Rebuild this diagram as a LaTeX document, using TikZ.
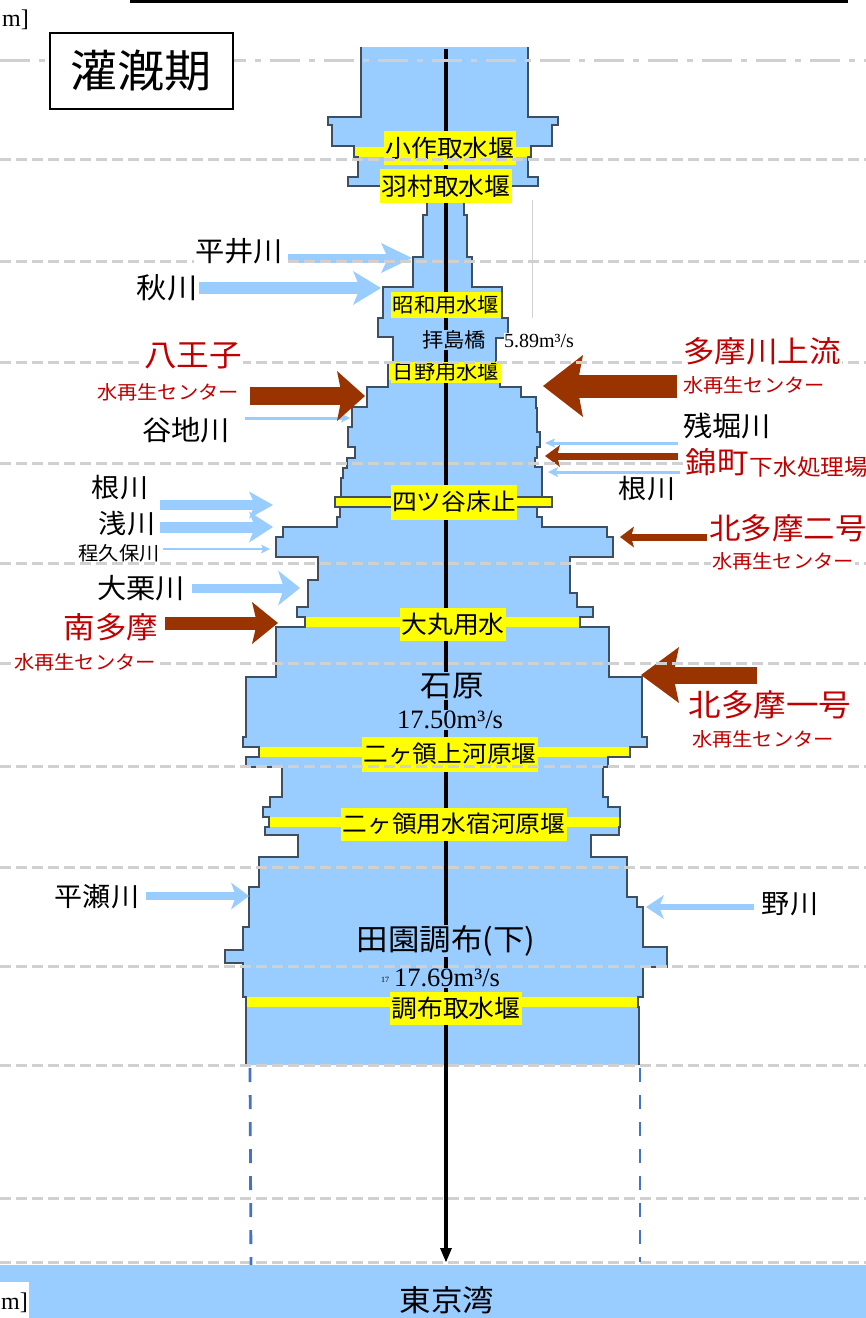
\documentclass[tikz,border=0pt]{standalone}
\usepackage{fontspec}
\setmainfont{Liberation Serif}
\newfontfamily\jp[FakeStretch=1.06]{Noto Sans CJK JP}
\usetikzlibrary{arrows.meta}
\definecolor{river}{HTML}{99CCFF}
\definecolor{edgec}{HTML}{3F4F60}
\definecolor{sewage}{HTML}{993300}
\definecolor{redtxt}{HTML}{C00000}
\definecolor{gridc}{HTML}{D0D0D0}
\definecolor{bluedash}{HTML}{4472C4}
\definecolor{ylw}{HTML}{FFFF00}
\newcommand\fsz[1]{\fontsize{#1}{#1}\selectfont}
\begin{document}
\begin{tikzpicture}[x=1pt,y=-1pt,
  jf/.style={font=\jp\fsz{#1}},
  rf/.style={font=\rmfamily\fsz{#1}},
  ylab/.style={fill=ylw, inner xsep=1.5pt, inner ysep=0pt, minimum height=#1},
  blab/.style={fill=river, inner sep=1pt},
  wlab/.style={fill=white, inner sep=1pt},
  redt/.style={text=redtxt},
  barrow/.style n args={4}{draw=river, line width=#1, -{Stealth[length=#2, width=#3, inset=#4, line width=0pt]}},
  brarrow/.style n args={4}{draw=sewage, line width=#1, -{Stealth[length=#2, width=#3, inset=#4, line width=0pt]}},
  gridline/.style={draw=gridc, line width=3pt, dash pattern=on 11pt off 5pt},
  ybar/.style={fill=ylw}
]
\useasboundingbox (0,0) rectangle (866,1318);
\fill[white] (0,0) rectangle (866,1318);
% top rule
\draw[line width=2.5pt] (130,1.3) -- (848,1.3);
% Tokyo bay
\fill[river] (0,1265) rectangle (866,1318);

% river body
\fill[river] (361,47) -- (361,117) -- (328,117) -- (328,125) -- (332,125) -- (332,146) -- (354,146) -- (354,157) -- (358,157) -- (358,177) -- (348,177) -- (348,186) -- (427,186) -- (427,215) -- (423,215) -- (423,257) -- (413,257) -- (413,287) -- (383,287) -- (383,318) -- (378,318) -- (378,337) -- (393,337) -- (393,362) -- (388,362) -- (388,387) -- (367,387) -- (367,407) -- (352,407) -- (352,427) -- (348,427) -- (348,447) -- (355,447) -- (355,458) -- (347,458) -- (347,468) -- (343,468) -- (343,478) -- (341,478) -- (341,497) -- (335,497) -- (335,507) -- (340,507) -- (340,517) -- (337,517) -- (337,527) -- (283,527) -- (283,537) -- (276,537) -- (276,557) -- (318,557) -- (318,580) -- (308,580) -- (308,607) -- (297,607) -- (297,617) -- (305,617) -- (305,627) -- (276,627) -- (276,677) -- (246,677) -- (246,737) -- (243,737) -- (243,747) -- (259,747) -- (259,757) -- (246,757) -- (246,767) -- (282,767) -- (282,797) -- (270,797) -- (270,807) -- (263,807) -- (263,817) -- (269,817) -- (269,827) -- (265,827) -- (265,835) -- (298,835) -- (298,857) -- (259,857) -- (259,887) -- (249,887) -- (249,927) -- (243,927) -- (243,950) -- (225,950) -- (225,963) -- (243,963) -- (243,997) -- (246,997) -- (246,1065)
 -- (639,1065) -- (639,1007) -- (638,1007) -- (638,997) -- (643,997) -- (643,967) -- (667,967) -- (667,947) -- (643,947) -- (643,907) -- (637,907) -- (637,897) -- (627,897) -- (627,857) -- (591,857) -- (591,835) -- (619,835) -- (619,827) -- (620,827) -- (620,807) -- (608,807) -- (608,797) -- (603,797) -- (603,767) -- (608,767) -- (608,757) -- (630,757) -- (630,747) -- (647,747) -- (647,737) -- (642,737) -- (642,677) -- (609,677) -- (609,627) -- (580,627) -- (580,617) -- (593,617) -- (593,607) -- (577,607) -- (577,593) -- (570,593) -- (570,557) -- (613,557) -- (613,537) -- (607,537) -- (607,527) -- (542,527) -- (542,517) -- (537,517) -- (537,507) -- (552,507) -- (552,497) -- (542,497) -- (542,467) -- (535,467) -- (535,458) -- (537,458) -- (537,447) -- (540,447) -- (540,432) -- (537,432) -- (537,408) -- (536,408) -- (536,397) -- (521,397) -- (521,387) -- (500,387) -- (500,362) -- (496,362) -- (496,338) -- (508,338) -- (508,318) -- (502,318) -- (502,287) -- (472,287) -- (472,257) -- (467,257) -- (467,215) -- (464,215) -- (464,186) -- (538,186) -- (538,177) -- (528,177) -- (528,157) -- (531,157) -- (531,146) -- (552,146) -- (552,125) -- (558,125) -- (558,117) -- (528,117) -- (528,47) -- cycle;

% weir bars
\fill[ybar] (354,147) rectangle (531,157);
\fill[ybar] (388,364) rectangle (500,380);
\filldraw[ybar, draw=edgec, line width=1.2pt] (335,497) rectangle (552,507);
\fill[ybar] (305,617) rectangle (580,627);
\fill[ybar] (259,747) rectangle (630,757);
\fill[ybar] (269,817) rectangle (620,827);
\fill[ybar] (246,997) rectangle (638,1007);

% outline
\draw[edgec, line width=1.4pt] (361,47) -- (361,117) -- (328,117) -- (328,125) -- (332,125) -- (332,146) -- (354,146) -- (354,157) -- (358,157) -- (358,177) -- (348,177) -- (348,186) -- (427,186) -- (427,215) -- (423,215) -- (423,257) -- (413,257) -- (413,287) -- (383,287) -- (383,318) -- (378,318) -- (378,337) -- (393,337) -- (393,362) -- (388,362) -- (388,387) -- (367,387) -- (367,407) -- (352,407) -- (352,427) -- (348,427) -- (348,447) -- (355,447) -- (355,458) -- (347,458) -- (347,468) -- (343,468) -- (343,478) -- (341,478) -- (341,497) -- (335,497) -- (335,507) -- (340,507) -- (340,517) -- (337,517) -- (337,527) -- (283,527) -- (283,537) -- (276,537) -- (276,557) -- (318,557) -- (318,580) -- (308,580) -- (308,607) -- (297,607) -- (297,617) -- (305,617) -- (305,627) -- (276,627) -- (276,677) -- (246,677) -- (246,737) -- (243,737) -- (243,747) -- (259,747) -- (259,757) -- (246,757) -- (246,767) -- (282,767) -- (282,797) -- (270,797) -- (270,807) -- (263,807) -- (263,817) -- (269,817) -- (269,827) -- (265,827) -- (265,835) -- (298,835) -- (298,857) -- (259,857) -- (259,887) -- (249,887) -- (249,927) -- (243,927) -- (243,950) -- (225,950) -- (225,963) -- (243,963) -- (243,997) -- (246,997) -- (246,1065);
\draw[edgec, line width=1.4pt] (639,1065) -- (639,1007) -- (638,1007) -- (638,997) -- (643,997) -- (643,967) -- (667,967) -- (667,947) -- (643,947) -- (643,907) -- (637,907) -- (637,897) -- (627,897) -- (627,857) -- (591,857) -- (591,835) -- (619,835) -- (619,827) -- (620,827) -- (620,807) -- (608,807) -- (608,797) -- (603,797) -- (603,767) -- (608,767) -- (608,757) -- (630,757) -- (630,747) -- (647,747) -- (647,737) -- (642,737) -- (642,677) -- (609,677) -- (609,627) -- (580,627) -- (580,617) -- (593,617) -- (593,607) -- (577,607) -- (577,593) -- (570,593) -- (570,557) -- (613,557) -- (613,537) -- (607,537) -- (607,527) -- (542,527) -- (542,517) -- (537,517) -- (537,507) -- (552,507) -- (552,497) -- (542,497) -- (542,467) -- (535,467) -- (535,458) -- (537,458) -- (537,447) -- (540,447) -- (540,432) -- (537,432) -- (537,408) -- (536,408) -- (536,397) -- (521,397) -- (521,387) -- (500,387) -- (500,362) -- (496,362) -- (496,338) -- (508,338) -- (508,318) -- (502,318) -- (502,287) -- (472,287) -- (472,257) -- (467,257) -- (467,215) -- (464,215) -- (464,186) -- (538,186) -- (538,177) -- (528,177) -- (528,157) -- (531,157) -- (531,146) -- (552,146) -- (552,125) -- (558,125) -- (558,117) -- (528,117) -- (528,47);

% faint guide
\draw[black!18, line width=0.8pt] (532,200) -- (532,318);

% centre flow line
\coordinate (src) at (446,49);
\coordinate (mouth) at (446,1262);
\draw[line width=3.2pt, -{Triangle[length=14pt, width=12pt, line width=0pt]}] (src) -- (mouth);

% yellow weir labels
\node[ylab=34pt, jf=24.4] (kosaku) at (450,148) {小作取水堰};
\node[ylab=34pt, jf=24.4] (hamura) at (446,186) {羽村取水堰};
\node[ylab=26pt, jf=20.1] (showa) at (446,305) {昭和用水堰};
\node[ylab=21pt, jf=20.1] (hino) at (446,372) {日野用水堰};
\node[ylab=35pt, jf=23.3] (yotsuya) at (454,502) {四ツ谷床止};
\node[ylab=33pt, jf=24.4] (daimaru) at (453,624) {大丸用水};
\node[ylab=35pt, jf=23.3] (kamigawara) at (450,754) {二ヶ領上河原堰};
\node[ylab=33pt, jf=23.3] (shukugawara) at (454,824) {二ヶ領用水宿河原堰};
\node[ylab=33pt, jf=24.4] (chofu) at (456,1008) {調布取水堰};

% station labels on the river
\node[blab, jf=20.1] (haijima) at (454,340) {拝島橋};
\node[wlab, rf=20, inner xsep=0.5pt] (q1) at (539,341) {5.89m³/s};
\node[blab, jf=29.7] (ishihara) at (452,686) {石原};
\node[blab, rf=26.5] (q2) at (450,720) {17.50m³/s};
\node[blab, jf=29.7] (denen) at (446,941) {田園調布(下)};

% tributary arrow ends
\coordinate (hiraiS) at (288,258);  \coordinate (hiraiT) at (412,258);
\coordinate (akiS) at (199,288);    \coordinate (akiT) at (381,288);
\coordinate (yachiS) at (245,418);  \coordinate (yachiT) at (350,418);
\coordinate (neLS) at (160,505);    \coordinate (neLT) at (273,505);
\coordinate (asaS) at (160,527);    \coordinate (asaT) at (273,527);
\coordinate (hodoS) at (163,549);   \coordinate (hodoT) at (270,549);
\coordinate (oguriS) at (192,588);  \coordinate (oguriT) at (300,588);
\coordinate (hiraseS) at (146,896); \coordinate (hiraseT) at (249,896);
\coordinate (zanS) at (678,443);    \coordinate (zanT) at (545,443);
\coordinate (neRS) at (680,472);    \coordinate (neRT) at (548,472);
\coordinate (noS) at (754,907);     \coordinate (noT) at (646,907);
\coordinate (hachiS) at (250,396);  \coordinate (hachiT) at (365,396);
\coordinate (minamiS) at (165,623); \coordinate (minamiT) at (278,623);
\coordinate (tamaS) at (677,386);   \coordinate (tamaT) at (543,386);
\coordinate (nishiS) at (678,456);  \coordinate (nishiT) at (545,456);
\coordinate (kitaiiS) at (707,537); \coordinate (kitaiiT) at (620,537);
\coordinate (kitaiS) at (757,675);  \coordinate (kitaiT) at (641,675);

\draw[barrow={9pt}{31pt}{30pt}{7pt}] (hiraiS) -- (hiraiT);
\draw[barrow={12pt}{28pt}{34pt}{7pt}] (akiS) -- (akiT);
\draw[barrow={3pt}{9pt}{9pt}{2pt}] (yachiS) -- (yachiT);
\draw[barrow={10pt}{24pt}{27pt}{6pt}] (neLS) -- (neLT);
\draw[barrow={11pt}{24pt}{31pt}{6pt}] (asaS) -- (asaT);
\draw[barrow={2.5pt}{9pt}{9pt}{2pt}] (hodoS) -- (hodoT);
\draw[barrow={9pt}{22pt}{35pt}{6pt}] (oguriS) -- (oguriT);
\draw[barrow={8pt}{18pt}{27pt}{5pt}] (hiraseS) -- (hiraseT);
\draw[barrow={3pt}{10pt}{9pt}{2pt}] (zanS) -- (zanT);
\draw[barrow={3pt}{10pt}{10pt}{2pt}] (neRS) -- (neRT);
\draw[barrow={6pt}{18pt}{24pt}{5pt}] (noS) -- (noT);
\draw[brarrow={18pt}{28pt}{50pt}{5pt}] (hachiS) -- (hachiT);
\draw[brarrow={13pt}{26pt}{42pt}{5pt}] (minamiS) -- (minamiT);
\draw[brarrow={23pt}{40pt}{62pt}{6pt}] (tamaS) -- (tamaT);
\draw[brarrow={7pt}{15pt}{22pt}{3pt}] (nishiS) -- (nishiT);
\draw[brarrow={7pt}{14pt}{21pt}{3pt}] (kitaiiS) -- (kitaiiT);
\draw[brarrow={17pt}{38pt}{56pt}{6pt}] (kitaiS) -- (kitaiT);

\node[jf=19.1, inner sep=0pt] (hodokubo) at (119,553) {程久保川};

% elevation grid
\draw[draw=gridc, line width=3pt, dash pattern=on 30pt off 9pt on 6pt off 9pt] (0,60) -- (866,60);
\foreach \yy in {159,261,362,463,563,663,766,867,966,1065,1198,1262}
  \draw[gridline] (0,\yy) -- (866,\yy);

% extension of banks
\coordinate (blA) at (250,1068); \coordinate (blB) at (251,1265);
\coordinate (brA) at (640,1068); \coordinate (brB) at (640,1262);
\draw[bluedash, line width=2.8pt, dash pattern=on 14pt off 13pt] (blA) -- (blB);
\draw[bluedash, line width=2.8pt, dash pattern=on 14pt off 13pt] (brA) -- (brB);

\node[blab, rf=26.5] (q3) at (447,978) {17.69m³/s};
\node[rf=8, inner sep=0pt] (q3pre) at (385,980) {17};

% title
\node[draw, line width=2pt, fill=white, minimum width=183pt, minimum height=76pt, inner sep=0pt, jf=44.5] (title) at (141,71) {灌漑期};
\node[rf=24, inner sep=0pt, anchor=east] (unitT) at (29,20) {m]};
\fill[white] (0,1282) rectangle (29,1318);
\node[rf=24, inner sep=0pt, anchor=east] (unitB) at (28,1303) {m]};
\node[jf=29.7] (bay) at (447,1300) {東京湾};

% side labels
\node[wlab, jf=27.6] (hirai) at (239,251) {平井川};
\node[wlab, jf=28.6] (aki) at (167,288) {秋川};
\node[wlab, jf=27.6] (yachi) at (186,430) {谷地川};
\node[wlab, jf=30.7, redt] (hachi) at (193,356) {八王子};
\node[wlab, jf=19.1, redt] (hachic) at (168,392) {水再生センター};
\node[wlab, jf=26.5] (neL) at (120,488) {根川};
\node[wlab, jf=26.5] (asa) at (127,524) {浅川};
\node[wlab, jf=27.6] (oguri) at (141,588) {大栗川};
\node[wlab, jf=29.7, redt] (minami) at (111,627) {南多摩};
\node[wlab, jf=19.1, redt] (minamic) at (85,662) {水再生センター};
\node[wlab, jf=26.5] (hirase) at (97,897) {平瀬川};
\node[wlab, jf=29.7, redt] (tama) at (762,351) {多摩川上流};
\node[wlab, jf=19.1, redt] (tamac) at (754,385) {水再生センター};
\node[wlab, jf=27.6] (zan) at (727,426) {残堀川};
\node[wlab, jf=29.7, redt] (nishi) at (717,462) {錦町};
\node[wlab, jf=22.3, redt] (nishic) at (809,467) {下水処理場};
\node[wlab, jf=26.5] (neR) at (647,489) {根川};
\node[wlab, jf=29.7, redt] (kitaii) at (788,528) {北多摩二号};
\node[wlab, jf=19.1, redt] (kitaiic) at (783,561) {水再生センター};
\node[wlab, jf=30.7, redt] (kitai) at (770,705) {北多摩一号};
\node[wlab, jf=19.1, redt] (kitaic) at (763,739) {水再生センター};
\node[wlab, jf=26.5] (no) at (790,904) {野川};
\end{tikzpicture}
\end{document}
